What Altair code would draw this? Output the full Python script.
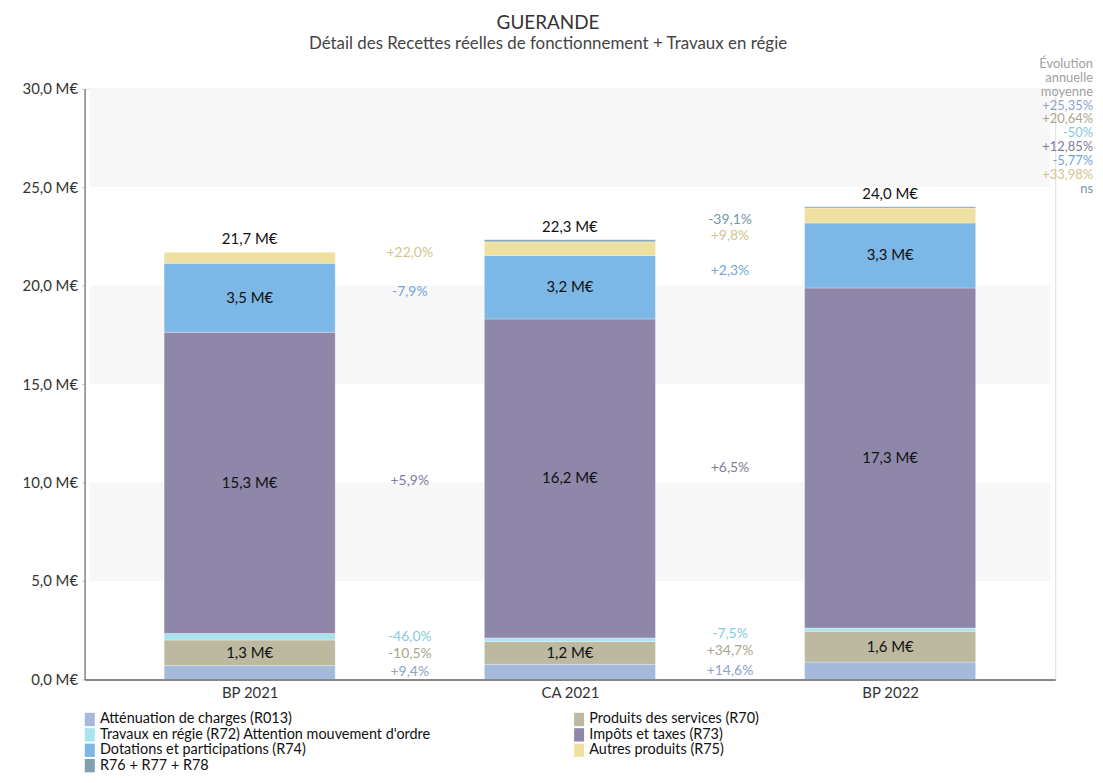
import altair as alt
import pandas as pd

# ---------------- data ----------------
categories = ["BP 2021", "CA 2021", "BP 2022"]
series = [
    "Atténuation de charges (R013)",
    "Produits des services (R70)",
    "Travaux en régie (R72) Attention mouvement d'ordre",
    "Impôts et taxes (R73)",
    "Dotations et participations (R74)",
    "Autres produits (R75)",
    "R76 + R77 + R78",
]
attenuation = [0.70, 0.766, 0.878]
produits = [1.30, 1.163, 1.567]
travaux = [0.33, 0.178, 0.165]
impots = [15.30, 16.20, 17.27]
dotations = [3.50, 3.224, 3.298]
autres = [0.57, 0.695, 0.764]
r76 = [0.0, 0.10, 0.061]

pct_bp21_ca21 = ["+9,4%", "-10,5%", "-46,0%", "+5,9%", "-7,9%", "+22,0%", ""]
pct_ca21_bp22 = ["+14,6%", "+34,7%", "-7,5%", "+6,5%", "+2,3%", "+9,8%", "-39,1%"]
evolution_header = ["Évolution", "annuelle", "moyenne"]
evolution_values = ["+25,35%", "+20,64%", "-50%", "+12,85%", "-5,77%", "+33,98%", "ns"]

y_ticks = [0, 5, 10, 15, 20, 25, 30]
gray_bands_lo = [5, 15, 25]
gray_bands_hi = [10, 20, 30]

bar_colors = ["#a5badb", "#bdb9a0", "#a9e3f0", "#8f87aa", "#7db7e5", "#efe0a1", "#7fa2ae"]
text_colors = ["#8fa1c8", "#aaa68e", "#86c9dc", "#817a9c", "#74a6d3", "#d2c38d", "#7398a6"]

# ---------------- layout ----------------
W, H = 976, 594
YMAX = 30
px_per_unit = H / YMAX
LINE = 14  # px between lines of the right-hand annotation

values = [attenuation, produits, travaux, impots, dotations, autres, r76]

rows = []
for ci, cat in enumerate(categories):
    base = 0.0
    for si, s in enumerate(series):
        v = values[si][ci]
        rows.append(dict(idx=ci, cat=cat, serie=s, order=si, value=v,
                         y0=base, y1=base + v, mid=base + v / 2,
                         label=(f"{v:.1f}".replace(".", ",") + " M€") if v >= 1.0 else ""))
        base += v
bars_df = pd.DataFrame(rows)

totals_df = (bars_df.groupby("idx", as_index=False)["value"].sum())
totals_df["label"] = totals_df["value"].map(lambda t: f"{t:.1f}".replace(".", ",") + " M€")

# percentage labels between bars, positioned at average of segment middles
min_sep = 17 / px_per_unit
pct_rows = []
for gap, labels in enumerate([pct_bp21_ca21, pct_ca21_bp22]):
    items = []
    for si, s in enumerate(series):
        if not labels[si]:
            continue
        a = bars_df[(bars_df.idx == gap) & (bars_df.order == si)].iloc[0]
        b = bars_df[(bars_df.idx == gap + 1) & (bars_df.order == si)].iloc[0]
        items.append(dict(x=gap + 0.5, y=(a.mid + b.mid) / 2, text=labels[si], serie=s))
    for _ in range(20):
        for i in range(1, len(items)):
            d = items[i]["y"] - items[i - 1]["y"]
            if d < min_sep:
                shift = (min_sep - d) / 2
                items[i]["y"] += shift
                items[i - 1]["y"] -= shift
    pct_rows += items
pct_df = pd.DataFrame(pct_rows)

# right-hand annotation lines (data-space y computed from line index)
top_line_px = -25
head_df = pd.DataFrame(dict(
    text=evolution_header,
    y=[YMAX - (top_line_px + LINE * i) / px_per_unit for i in range(len(evolution_header))]))
evo_df = pd.DataFrame(dict(
    text=evolution_values, serie=series,
    y=[YMAX - (top_line_px + LINE * (i + len(evolution_header))) / px_per_unit
       for i in range(len(evolution_values))]))

bands_df = pd.DataFrame(dict(lo=gray_bands_lo, hi=gray_bands_hi))

# ---------------- chart ----------------
FONT = "Lato"
xscale = alt.Scale(domain=[-0.5, len(categories) - 0.5], nice=False, zero=False)
yscale = alt.Scale(domain=[0, YMAX], nice=False)
cat_expr = "[" + ",".join(f"'{c}'" for c in categories) + "][datum.value]"

xaxis = alt.Axis(values=list(range(len(categories))), labelExpr=cat_expr, title=None,
                 grid=False, ticks=False, domainColor="#888", domainWidth=2,
                 labelFontSize=15, labelColor="#333", labelPadding=6, zindex=1)
yaxis = alt.Axis(values=y_ticks, labelExpr="replace(format(datum.value, '.1f'), '.', ',') + ' M€'",
                 title=None, grid=False, tickSize=3, tickColor="#ccc", domainColor="#555",
                 labelFontSize=15, labelColor="#333", labelPadding=4, zindex=1)

bands = alt.Chart(bands_df).mark_rect(color="#f7f7f7").encode(
    x=alt.datum(-0.5, scale=xscale), x2=alt.datum(len(categories) - 0.5),
    y=alt.Y("lo:Q", scale=yscale, axis=yaxis), y2="hi:Q")

legend = alt.Legend(title=None, orient="none", legendX=-2, legendY=627, columns=2,
                    direction="horizontal",
                    symbolType="M-0.75,-1L0.75,-1L0.75,1L-0.75,1Z", symbolSize=180,
                    symbolStrokeWidth=0, labelFontSize=14.5, labelColor="#111",
                    labelLimit=600, rowPadding=0.5, columnPadding=141, labelOffset=3,
                    padding=0)

bars = alt.Chart(bars_df).mark_bar(size=172, stroke="white", strokeWidth=0.6,
                                   strokeOpacity=0.5).encode(
    x=alt.X("idx:Q", scale=xscale, axis=xaxis),
    y=alt.Y("y0:Q", scale=yscale, axis=yaxis), y2="y1:Q",
    fill=alt.Fill("serie:N", scale=alt.Scale(domain=series, range=bar_colors),
                  sort=series, legend=legend),
    order="order:Q")

seg_labels = alt.Chart(bars_df).mark_text(fontSize=15, color="#111", font=FONT).encode(
    x="idx:Q", y="mid:Q", text="label:N")

tot_labels = alt.Chart(totals_df).mark_text(fontSize=15, color="#111", font=FONT,
                                            baseline="bottom", dy=-5).encode(
    x="idx:Q", y="value:Q", text="label:N")

txt_color = alt.Color("serie:N", scale=alt.Scale(domain=series, range=text_colors), legend=None)

pct_labels = alt.Chart(pct_df).mark_text(fontSize=14, font=FONT).encode(
    x="x:Q", y="y:Q", text="text:N", color=txt_color)

head = alt.Chart(head_df).mark_text(fontSize=13, font=FONT, align="right", color="#a0a0a0").encode(
    x=alt.value(W + 38), y="y:Q", text="text:N")
evo = alt.Chart(evo_df).mark_text(fontSize=13, font=FONT, align="right").encode(
    x=alt.value(W + 38), y="y:Q", text="text:N", color=txt_color)

chart = alt.layer(bands, bars, seg_labels, tot_labels, pct_labels, head, evo).properties(
    width=W, height=H,
    autosize=alt.AutoSizeParams(type="none"),
    padding={"left": 77, "top": 79, "right": 40, "bottom": 92},
    title=alt.TitleParams("GUERANDE",
                          subtitle="Détail des Recettes réelles de fonctionnement + Travaux en régie",
                          anchor="middle", dx=-22, fontSize=19, fontWeight="normal",
                          color="#333", subtitleFontSize=17, subtitleColor="#444",
                          subtitlePadding=3, offset=6, font=FONT, subtitleFont=FONT),
).configure_view(stroke=None).configure(font=FONT)

chart.save("out.html", embed_options={"renderer": "svg", "actions": False})
